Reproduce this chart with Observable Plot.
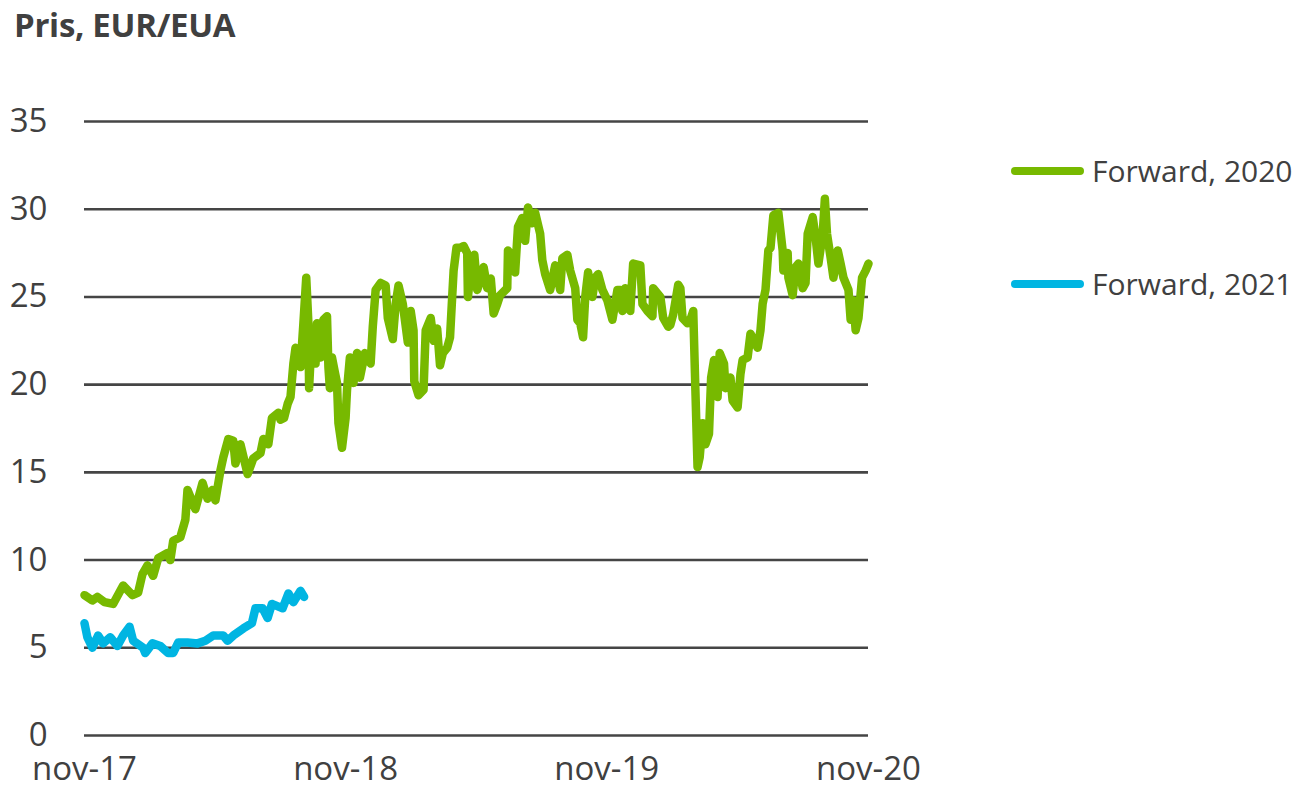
<!DOCTYPE html>
<html>
<head>
<meta charset="utf-8">
<script src="https://cdn.jsdelivr.net/npm/d3@7"></script>
<script src="https://cdn.jsdelivr.net/npm/@observablehq/plot@0.6"></script>
<style>
  html, body { margin: 0; padding: 0; background: #fff; }
  body { width: 1301px; height: 788px; position: relative; overflow: hidden; }
  #title { height: 60px; box-sizing: border-box; padding: 2px 0 0 14px; font-family: "Open Sans", sans-serif; font-weight: 700; font-size: 33px; letter-spacing: -0.3px; color: #404040; }
  #legend { position: absolute; left: 1011px; top: 0; font-family: "Open Sans", sans-serif; font-size: 30px; color: #404040; }
  .item { position: absolute; left: 0; white-space: nowrap; display: flex; align-items: center; }
  .swatch { display: inline-block; width: 73px; height: 8px; border-radius: 4px; margin-right: 8px; }
</style>
</head>
<body>
<div id="title">Pris, EUR/EUA</div>
<div id="chart"></div>
<div id="legend"></div>
<script>
// ---- data ----
const seriesNames = ["Forward, 2020", "Forward, 2021"];
const seriesColors = ["#77b900", "#00b5e2"];
const yTicks = [0, 5, 10, 15, 20, 25, 30, 35];
const xTickDates = ["2017-11-01", "2018-11-01", "2019-11-01", "2020-11-01"];
const xTickLabels = ["nov-17", "nov-18", "nov-19", "nov-20"];

const fwd2020 = [
["2017-11-01",8.0],["2017-11-12",7.7],["2017-11-19",7.9],["2017-11-29",7.6],["2017-12-11",7.5],["2017-12-25",8.55],["2018-01-07",8.0],["2018-01-15",8.15],["2018-01-21",9.2],["2018-01-28",9.7],["2018-02-05",9.1],["2018-02-12",10.1],["2018-02-25",10.4],["2018-03-01",10.0],["2018-03-05",11.1],["2018-03-15",11.3],["2018-03-22",12.3],["2018-03-25",14.0],["2018-04-05",12.9],["2018-04-15",14.4],["2018-04-22",13.5],["2018-04-29",14.0],["2018-05-03",13.4],["2018-05-10",15.1],["2018-05-14",15.85],["2018-05-21",16.9],["2018-05-28",16.8],["2018-05-31",15.5],["2018-06-07",16.6],["2018-06-17",14.9],["2018-06-25",15.8],["2018-07-05",16.1],["2018-07-09",16.9],["2018-07-16",16.6],["2018-07-21",18.1],["2018-07-30",18.4],["2018-08-02",18.0],["2018-08-07",18.1],["2018-08-12",18.9],["2018-08-16",19.3],["2018-08-20",21.2],["2018-08-23",22.1],["2018-08-27",21.55],["2018-08-30",21.0],["2018-09-03",23.5],["2018-09-07",26.1],["2018-09-10",23.5],["2018-09-11",19.8],["2018-09-15",23.1],["2018-09-20",21.2],["2018-09-22",23.5],["2018-09-27",21.55],["2018-10-01",23.7],["2018-10-06",23.9],["2018-10-08",21.0],["2018-10-10",19.8],["2018-10-13",21.55],["2018-10-17",20.7],["2018-10-20",20.1],["2018-10-22",17.8],["2018-10-27",16.4],["2018-11-01",18.1],["2018-11-03",19.7],["2018-11-07",21.55],["2018-11-12",20.1],["2018-11-17",21.8],["2018-11-21",20.4],["2018-11-28",21.8],["2018-12-06",21.2],["2018-12-09",23.3],["2018-12-13",25.4],["2018-12-20",25.8],["2018-12-27",25.65],["2018-12-30",23.8],["2019-01-06",22.6],["2019-01-10",24.6],["2019-01-14",25.65],["2019-01-20",24.6],["2019-01-27",22.4],["2019-01-31",24.2],["2019-02-04",23.1],["2019-02-05",20.2],["2019-02-11",19.4],["2019-02-18",19.7],["2019-02-21",23.1],["2019-02-28",23.8],["2019-03-04",22.5],["2019-03-09",23.2],["2019-03-13",21.1],["2019-03-17",21.8],["2019-03-23",22.1],["2019-03-27",22.7],["2019-03-30",25.0],["2019-04-01",26.5],["2019-04-05",27.8],["2019-04-10",27.8],["2019-04-15",27.9],["2019-04-20",27.5],["2019-04-21",25.0],["2019-04-27",27.25],["2019-04-30",27.4],["2019-05-04",25.4],["2019-05-08",25.9],["2019-05-13",26.7],["2019-05-18",25.5],["2019-05-23",26.05],["2019-05-27",24.05],["2019-06-01",24.6],["2019-06-05",25.1],["2019-06-15",25.5],["2019-06-16",27.65],["2019-06-22",27.25],["2019-06-26",26.4],["2019-06-30",29.0],["2019-07-06",29.5],["2019-07-10",28.2],["2019-07-14",30.1],["2019-07-20",29.2],["2019-07-24",29.8],["2019-07-31",28.6],["2019-08-03",27.1],["2019-08-07",26.3],["2019-08-14",25.4],["2019-08-21",26.8],["2019-08-28",25.4],["2019-08-31",27.2],["2019-09-07",27.4],["2019-09-11",26.5],["2019-09-18",25.5],["2019-09-21",23.7],["2019-09-25",23.5],["2019-09-29",22.7],["2019-10-02",25.0],["2019-10-06",26.4],["2019-10-12",25.0],["2019-10-16",26.1],["2019-10-20",26.3],["2019-10-26",25.4],["2019-11-02",24.8],["2019-11-09",23.7],["2019-11-16",25.4],["2019-11-20",25.4],["2019-11-23",24.2],["2019-11-27",25.5],["2019-12-04",24.2],["2019-12-08",26.9],["2019-12-18",26.8],["2019-12-21",24.6],["2019-12-28",24.2],["2020-01-04",23.9],["2020-01-05",25.5],["2020-01-15",25.0],["2020-01-19",23.8],["2020-01-26",23.3],["2020-01-29",23.4],["2020-02-02",24.0],["2020-02-09",25.7],["2020-02-12",25.5],["2020-02-15",23.8],["2020-02-22",23.5],["2020-02-26",23.7],["2020-03-01",24.2],["2020-03-04",19.7],["2020-03-07",15.3],["2020-03-10",15.85],["2020-03-14",17.8],["2020-03-18",16.6],["2020-03-23",17.2],["2020-03-26",20.4],["2020-03-30",21.4],["2020-04-04",19.3],["2020-04-07",21.8],["2020-04-13",21.2],["2020-04-15",19.8],["2020-04-22",20.4],["2020-04-25",19.1],["2020-05-02",18.7],["2020-05-06",20.6],["2020-05-09",21.4],["2020-05-16",21.55],["2020-05-20",22.9],["2020-05-30",22.1],["2020-06-03",23.1],["2020-06-06",24.6],["2020-06-10",25.4],["2020-06-14",27.65],["2020-06-17",27.8],["2020-06-21",29.65],["2020-06-28",29.8],["2020-07-04",27.65],["2020-07-05",26.5],["2020-07-11",27.5],["2020-07-12",26.1],["2020-07-18",25.1],["2020-07-22",26.7],["2020-07-26",26.9],["2020-08-01",25.5],["2020-08-05",25.8],["2020-08-08",28.6],["2020-08-15",29.55],["2020-08-19",28.4],["2020-08-23",26.9],["2020-08-29",28.6],["2020-09-01",30.6],["2020-09-04",28.6],["2020-09-09",27.25],["2020-09-13",26.1],["2020-09-19",27.65],["2020-09-23",26.9],["2020-09-27",26.1],["2020-10-04",25.4],["2020-10-07",23.7],["2020-10-11",24.8],["2020-10-14",23.1],["2020-10-18",23.8],["2020-10-23",26.1],["2020-10-28",26.5],["2020-11-01",26.9]
];

const fwd2021 = [
["2017-11-01",6.4],["2017-11-05",5.6],["2017-11-12",5.0],["2017-11-20",5.7],["2017-11-27",5.25],["2017-12-07",5.6],["2017-12-17",5.1],["2017-12-25",5.7],["2018-01-03",6.2],["2018-01-08",5.4],["2018-01-22",5.0],["2018-01-25",4.7],["2018-02-04",5.25],["2018-02-15",5.1],["2018-02-26",4.7],["2018-03-05",4.7],["2018-03-12",5.3],["2018-03-25",5.3],["2018-04-08",5.25],["2018-04-19",5.4],["2018-04-30",5.7],["2018-05-14",5.7],["2018-05-20",5.4],["2018-05-28",5.7],["2018-06-11",6.1],["2018-06-23",6.4],["2018-06-28",7.25],["2018-07-08",7.25],["2018-07-15",6.7],["2018-07-21",7.5],["2018-08-05",7.25],["2018-08-13",8.1],["2018-08-20",7.6],["2018-08-30",8.25],["2018-09-04",7.9]
];

// ---- chart ----
const parse = d3.utcParse("%Y-%m-%d");
const labelByTime = new Map(xTickDates.map((d, i) => [+parse(d), xTickLabels[i]]));
const allSeries = [fwd2020, fwd2021];

const chart = Plot.plot({
  width: 990,
  height: 728,
  marginTop: 61,
  marginBottom: 53,
  marginLeft: 84,
  marginRight: 122,
  style: { fontFamily: '"Open Sans", sans-serif', fontSize: "33px", color: "#404040", background: "#fff" },
  x: {
    type: "utc",
    domain: [parse(xTickDates[0]), parse(xTickDates[xTickDates.length - 1])],
    ticks: xTickDates.map(parse),
    tickFormat: d => labelByTime.get(+d),
    tickSize: 0,
    tickPadding: 21,
    label: null
  },
  y: {
    domain: [0, 35],
    ticks: yTicks,
    tickSize: 0,
    tickPadding: 37,
    label: null
  },
  marks: [
    Plot.ruleY(yTicks, { stroke: "#454545", strokeWidth: 2.6 }),
    ...allSeries.map((s, i) => Plot.line(s, {
      x: d => parse(d[0]),
      y: d => d[1],
      stroke: seriesColors[i],
      strokeWidth: 8.5,
      strokeLinejoin: "round",
      strokeLinecap: "round"
    })).reverse()
  ]
});
document.getElementById("chart").appendChild(chart);

// ---- legend ----
const legend = document.getElementById("legend");
const legendTops = [150, 263];
seriesNames.forEach((name, i) => {
  const item = document.createElement("div");
  item.className = "item";
  item.style.top = legendTops[i] + "px";
  const sw = document.createElement("span");
  sw.className = "swatch";
  sw.style.background = seriesColors[i];
  const t = document.createElement("span");
  t.textContent = name;
  item.appendChild(sw);
  item.appendChild(t);
  legend.appendChild(item);
});
</script>
</body>
</html>
